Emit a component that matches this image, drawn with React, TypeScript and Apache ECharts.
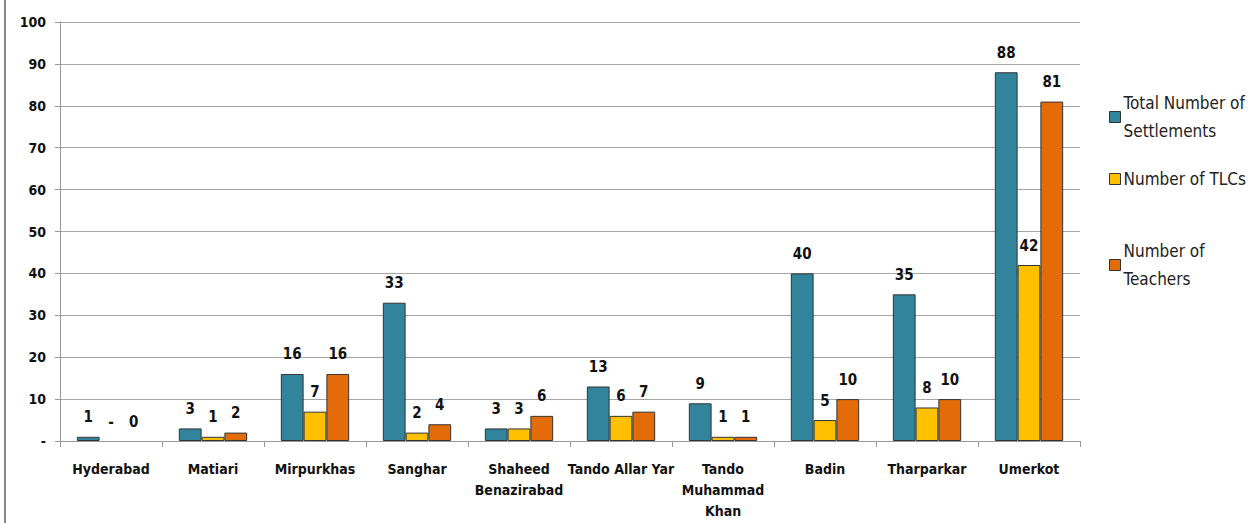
import React, { useEffect, useRef } from "react";
import * as echarts from "echarts";

const categories = [
  "Hyderabad",
  "Matiari",
  "Mirpurkhas",
  "Sanghar",
  "Shaheed\nBenazirabad",
  "Tando Allar Yar",
  "Tando\nMuhammad\nKhan",
  "Badin",
  "Tharparkar",
  "Umerkot",
];
const settlements = [1, 3, 16, 33, 3, 13, 9, 40, 35, 88];
const tlcs = [0, 1, 7, 2, 3, 6, 1, 5, 8, 42];
const teachers = [0, 2, 16, 4, 6, 7, 1, 10, 10, 81];
const seriesNames = ["Total Number of Settlements", "Number of TLCs", "Number of Teachers"];
const legendLabels = ["Total Number of\nSettlements", "Number of TLCs", "Number of\nTeachers"];
const colors = ["#31849B", "#FFC000", "#E36C09"];

const FONT = "'DejaVu Sans Condensed', 'Liberation Sans Narrow', 'Arial Narrow', 'Liberation Sans', sans-serif";

export default function App() {
  const ref = useRef<HTMLDivElement>(null);
  useEffect(() => {
    if (!ref.current) return;
    const chart = echarts.init(ref.current, null, { renderer: "svg" });
    const labelFor = (zeroText: string) => ({
      show: true,
      position: "top" as const,
      distance: 12,
      fontFamily: FONT,
      fontWeight: "bold" as const,
      fontSize: 15,
      color: "#111",
      formatter: (p: any) => (p.value === 0 ? zeroText : String(p.value)),
    });
    const datas = [settlements, tlcs, teachers];
    const zeroTexts = ["-", "-", "0"];
    const legendTops = [84, 160, 232];
    chart.setOption({
      animation: false,
      grid: { left: 60, right: 174, top: 22, bottom: 82, containLabel: false },
      legend: legendTops.map((top, i) => ({
        data: [seriesNames[i]],
        orient: "vertical",
        left: 1104,
        top,
        itemWidth: 11,
        itemHeight: 11,
        itemGap: 4,
        icon: "rect",
        itemStyle: { borderColor: "#333", borderWidth: 1 },
        formatter: () => legendLabels[i],
        textStyle: {
          fontFamily: FONT,
          fontSize: 17,
          color: "#222",
          lineHeight: 28,
          padding: [0, 0, 0, -2],
        },
      })),
      xAxis: {
        type: "category",
        data: categories,
        axisLine: { lineStyle: { color: "#999" } },
        axisTick: { show: true, length: 6, lineStyle: { color: "#999" } },
        axisLabel: {
          fontFamily: FONT,
          fontWeight: "bold",
          fontSize: 14,
          color: "#111",
          lineHeight: 21,
          margin: 17,
          interval: 0,
        },
      },
      yAxis: {
        type: "value",
        min: 0,
        max: 100,
        interval: 10,
        axisLine: { show: true, lineStyle: { color: "#999" } },
        axisTick: { show: true, length: 5, lineStyle: { color: "#999" } },
        splitLine: { lineStyle: { color: "#a6a6a6" } },
        axisLabel: {
          fontFamily: FONT,
          fontWeight: "bold",
          fontSize: 14,
          color: "#111",
          margin: 14,
          formatter: (v: number) => (v === 0 ? "-" : String(v)),
        },
      },
      series: seriesNames.map((name, i) => ({
        name,
        type: "bar",
        data: datas[i].map((v) =>
          v === 0
            ? { value: v, itemStyle: { borderWidth: 0, color: "rgba(0,0,0,0)", borderColor: "rgba(0,0,0,0)" } }
            : v
        ),
        barGap: "0%",
        barCategoryGap: "33%",
        itemStyle: { color: colors[i], borderColor: "#333", borderWidth: 1 },
        label: labelFor(zeroTexts[i]),
      })),
      graphic: [
        {
          type: "line",
          shape: { x1: 5, y1: 0, x2: 5, y2: 523 },
          style: { stroke: "#888", lineWidth: 2 },
        },
      ],
    });
    return () => chart.dispose();
  }, []);
  return (
    <div
      ref={ref}
      style={{ position: "fixed", left: 0, top: 0, width: 1254, height: 523, background: "#fff" }}
    />
  );
}
